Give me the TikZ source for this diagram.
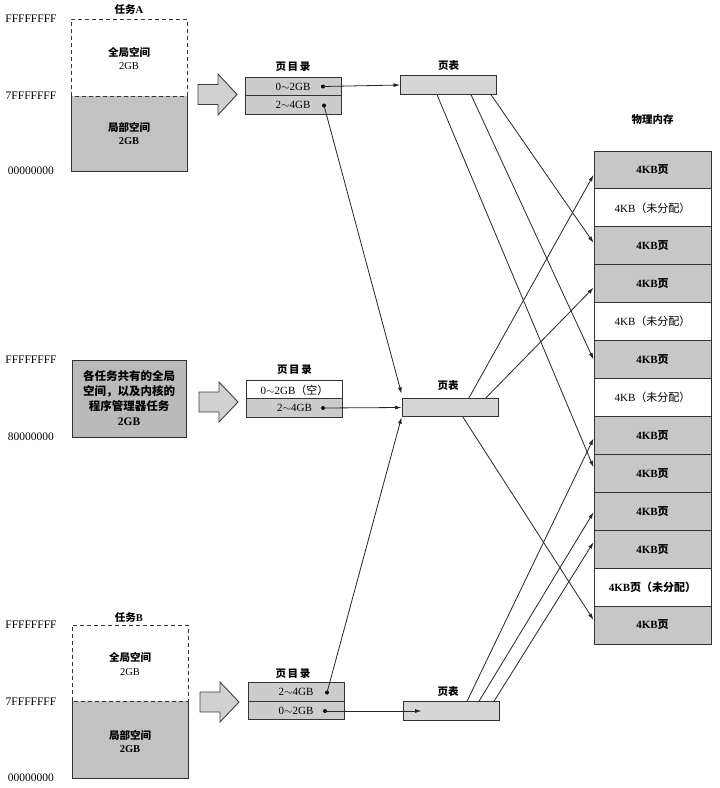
\documentclass[tikz,border=0pt]{standalone}
\usepackage{fontspec}
\setmainfont{Liberation Serif}
\newfontfamily\cjk{Noto Sans CJK SC}
\usetikzlibrary{arrows.meta}
\newcommand\zhtxt[1]{{\cjk #1}}
\begin{document}
\begin{tikzpicture}[x=1pt,y=-1pt,
  every node/.style={font=\fontsize{10.5}{12.5}\selectfont, inner sep=0pt},
  hexlbl/.style={font=\fontsize{11.5}{13}\selectfont},
  ttl/.style={font=\fontsize{10.5}{12}\selectfont\bfseries},
  boxtxt/.style={font=\fontsize{10.5}{12.5}\selectfont\bfseries},
  frame/.style={draw=black!80, line width=0.9pt},
  dirrow/.style={frame, minimum width=96pt, minimum height=18.5pt, font=\fontsize{11}{12}\selectfont},
  ptab/.style={frame, fill=black!16, minimum width=96pt, minimum height=18.5pt},
  memrow/.style={frame, minimum width=117pt, minimum height=37.92pt, font=\fontsize{11}{13}\selectfont},
  memg/.style={memrow, fill=black!22},
  memw/.style={memrow, fill=white},
  bigarrow/.style={draw=black!75, line width=0.9pt, fill=black!18},
  conn/.style={draw=black!85, line width=0.8pt, -{Latex[length=6.5pt,width=4pt]}},
  dotc/.style={fill=black}
]
\useasboundingbox (0,0) rectangle (720,788);
\fill[white] (0,0) rectangle (720,788);

% ---------------- Task A ----------------
\node[ttl] (tA) at (129,9) {\zhtxt{任务}A};
\fill[black!24] (71,96) rectangle (187,171);
\draw[frame] (71,96) -- (71,171) -- (187,171) -- (187,96);
\draw[frame, dashed, dash pattern=on 4pt off 3pt] (71,96) -- (71,19) -- (187,19) -- (187,96) -- cycle;
\node[boxtxt] (gA) at (129,52) {\zhtxt{全局空间}};
\node (gA2) at (129,66) {2GB};
\node[boxtxt] (lA) at (129,127) {\zhtxt{局部空间}};
\node[boxtxt] (lA2) at (129,141) {2GB};
\node[hexlbl] (hA1) at (31,19) {FFFFFFFF};
\node[hexlbl] (hA2) at (31,96) {7FFFFFFF};
\node[hexlbl] (hA3) at (31,171) {00000000};
\draw[bigarrow] (198,84.5) -- (218,84.5) -- (218,74) -- (237,94.5) -- (218,115) -- (218,104.5) -- (198,104.5) -- cycle;

\node[ttl] (pdAt) at (293,67) {\zhtxt{页\,目\,录}};
\node[dirrow, fill=black!20] (pdA1) at (293,86.5) {0$\sim$2GB};
\node[dirrow, fill=black!20] (pdA2) at (293,105) {2$\sim$4GB};
\coordinate (dA1) at (323,86.5);
\coordinate (dA2) at (324,105.5);
\fill[dotc] (dA1) circle (2pt);
\fill[dotc] (dA2) circle (2pt);

\node[ttl] (ptAt) at (448.5,66) {\zhtxt{页表}};
\node[ptab] (pta) at (448.5,85) {};

% ---------------- Shared ----------------
\node[hexlbl] (hM1) at (31,360) {FFFFFFFF};
\node[hexlbl] (hM2) at (31,437) {80000000};
\node[frame, fill=black!27, minimum width=114pt, minimum height=77pt, align=center,
      font=\fontsize{11.5}{15}\selectfont\bfseries] (shared) at (129,398.5)
  {\zhtxt{各任务共有的全局}\\\zhtxt{空间，以及内核的}\\\zhtxt{程序管理器任务}\\2GB};
\draw[bigarrow] (199,392) -- (219,392) -- (219,382) -- (238,402) -- (219,422) -- (219,412) -- (199,412) -- cycle;

\node[ttl] (pdMt) at (294.5,370) {\zhtxt{页\,目\,录}};
\node[dirrow, fill=white] (pdM1) at (294.5,390) {0$\sim$2GB\zhtxt{（空）}};
\node[dirrow, fill=black!20] (pdM2) at (294.5,408) {2$\sim$4GB};
\coordinate (dM) at (323,408);
\fill[dotc] (dM) circle (2pt);

\node[ttl] (pt2t) at (448,386) {\zhtxt{页表}};
\node[ptab] (pt2) at (450,407.5) {};

% ---------------- Task B ----------------
\node[ttl] (tB) at (129,617) {\zhtxt{任务}B};
\fill[black!24] (72,701) rectangle (188,778);
\draw[frame] (72,701) -- (72,778) -- (188,778) -- (188,701);
\draw[frame, dashed, dash pattern=on 4pt off 3pt] (72,701) -- (72,625) -- (188,625) -- (188,701) -- cycle;
\node[boxtxt] (gB) at (130,657) {\zhtxt{全局空间}};
\node (gB2) at (130,672) {2GB};
\node[boxtxt] (lB) at (130,735) {\zhtxt{局部空间}};
\node[boxtxt] (lB2) at (130,749) {2GB};
\node[hexlbl] (hB1) at (31,625) {FFFFFFFF};
\node[hexlbl] (hB2) at (31,702) {7FFFFFFF};
\node[hexlbl] (hB3) at (31,778) {00000000};
\draw[bigarrow] (200,692) -- (220,692) -- (220,682) -- (239,702) -- (220,722) -- (220,712) -- (200,712) -- cycle;

\node[ttl] (pdBt) at (293,674) {\zhtxt{页\,目\,录}};
\node[dirrow, fill=black!20] (pdB1) at (296,692) {2$\sim$4GB};
\node[dirrow, fill=black!20] (pdB2) at (296,710.5) {0$\sim$2GB};
\coordinate (dB1) at (327,692.5);
\coordinate (dB2) at (325,711);
\fill[dotc] (dB1) circle (2pt);
\fill[dotc] (dB2) circle (2pt);

\node[ttl] (ptBt) at (448,692) {\zhtxt{页表}};
\node[ptab] (ptb) at (451,711) {};

% ---------------- Physical memory ----------------
\node[ttl] (memt) at (652.5,120) {\zhtxt{物理内存}};
\node[memg] (m1)  at (652.5,169.96) {\bfseries 4KB\zhtxt{页}};
\node[memw] (m2)  at (652.5,207.88) {4KB\zhtxt{（未分配）}};
\node[memg] (m3)  at (652.5,245.80) {\bfseries 4KB\zhtxt{页}};
\node[memg] (m4)  at (652.5,283.72) {\bfseries 4KB\zhtxt{页}};
\node[memw] (m5)  at (652.5,321.64) {4KB\zhtxt{（未分配）}};
\node[memg] (m6)  at (652.5,359.56) {\bfseries 4KB\zhtxt{页}};
\node[memw] (m7)  at (652.5,397.48) {4KB\zhtxt{（未分配）}};
\node[memg] (m8)  at (652.5,435.40) {\bfseries 4KB\zhtxt{页}};
\node[memg] (m9)  at (652.5,473.32) {\bfseries 4KB\zhtxt{页}};
\node[memg] (m10) at (652.5,511.24) {\bfseries 4KB\zhtxt{页}};
\node[memg] (m11) at (652.5,549.16) {\bfseries 4KB\zhtxt{页}};
\node[memw] (m12) at (652.5,587.08) {\bfseries 4KB\zhtxt{页（未分配）}};
\node[memg] (m13) at (652.5,625.00) {\bfseries 4KB\zhtxt{页}};

% ---------------- Connectors ----------------
\draw[conn] (dA1) -- (pta.west);
\draw[conn] (dA2) -- ([yshift=4pt]pt2.north west);
\draw[conn] (dM) -- (pt2.west);
\draw[conn] (dB1) -- (pt2.south west);
\draw[conn] (dB2) -- ([xshift=19pt]ptb.west);

\draw[conn] ([xshift=42.5pt]pta.south) -- ([yshift=3pt]m3.west);
\draw[conn] ([xshift=22.5pt]pta.south) -- (m6.west);
\draw[conn] ([xshift=-11.5pt]pta.south) -- ([yshift=6pt]m9.west);

\draw[conn] ([xshift=19pt]pt2.north) -- ([yshift=-5pt]m1.west);
\draw[conn] ([xshift=36pt]pt2.north) -- ([yshift=-4pt]m4.west);
\draw[conn] ([xshift=13pt]pt2.south) -- ([yshift=5pt]m13.west);

\draw[conn] ([xshift=16pt]ptb.north) -- ([yshift=-3pt]m8.west);
\draw[conn] ([xshift=28pt]ptb.north) -- ([yshift=-1pt]m10.west);
\draw[conn] ([xshift=43pt]ptb.north) -- ([yshift=7pt]m11.west);
\end{tikzpicture}
\end{document}
